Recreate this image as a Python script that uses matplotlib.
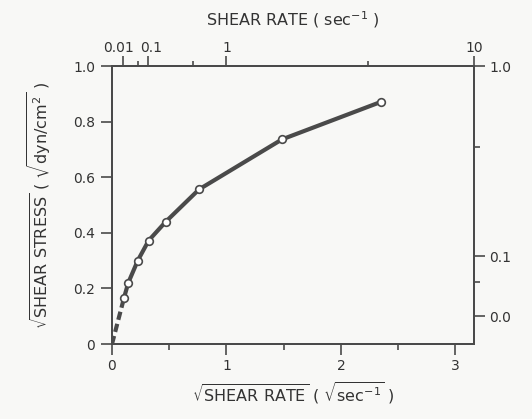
import matplotlib
matplotlib.use("Agg")
import matplotlib.pyplot as plt
import matplotlib.transforms as mtransforms
import numpy as np

# data: sqrt(shear rate) vs sqrt(shear stress)
sqrt_rate = [0.105, 0.142, 0.225, 0.32, 0.47, 0.76, 1.485, 2.35]
sqrt_stress = [0.166, 0.22, 0.30, 0.372, 0.44, 0.556, 0.736, 0.871]

x_ticks = [0, 1, 2, 3]
x_tick_labels = ["0", "1", "2", "3"]
y_ticks = [0, 0.2, 0.4, 0.6, 0.8, 1.0]
y_tick_labels = ["0", "0.2", "0.4", "0.6", "0.8", "1.0"]
top_rates = [0.01, 0.1, 1, 10]
top_labels = ["0.01", "0.1", "1", "10"]
top_minor_rates = [0.05, 0.5, 5]
right_stress = [1.0, 0.1, 0.01]
right_labels = ["1.0", "0.1", "0.0"]
right_minor_stress = [0.5, 0.05]

TXT = "#333333"
LINE = "#4a4a4a"
plt.rcParams['font.family'] = ['DejaVu Sans']
plt.rcParams['mathtext.fontset'] = 'dejavusans'

fig = plt.figure(figsize=(5.32, 4.19), dpi=100, facecolor="#f8f8f6")
ax = fig.add_axes([112/532, 75/419, (474-112)/532, (344-66)/419])
ax.set_facecolor("#f8f8f6")
ax.set_xlim(0, np.sqrt(10))
ax.set_ylim(0, 1.0)

for s in ax.spines.values():
    s.set_color(LINE)
    s.set_linewidth(1.2)

TS = 10
LS = 11.5

# bottom / left
ax.set_xticks(x_ticks)
ax.set_xticklabels(x_tick_labels)
ax.set_xticks([0.5, 1.5, 2.5], minor=True)
ax.set_yticks(y_ticks)
ax.set_yticklabels(y_tick_labels)
ax.tick_params(axis="both", which="major", direction="out", length=8, width=1.2,
               color=LINE, labelcolor=TXT, labelsize=TS, pad=3)
ax.tick_params(axis="x", which="minor", direction="out", length=4.5, width=1.2, color=LINE)
ax.tick_params(axis="y", which="major", pad=4)

# top axis (shear rate, log labels at sqrt positions)
axt = ax.twiny()
axt.set_xlim(ax.get_xlim())
axt.set_xticks(np.sqrt(top_rates))
axt.set_xticklabels(top_labels)
axt.set_xticks(np.sqrt(top_minor_rates), minor=True)
axt.tick_params(axis="x", which="major", direction="out", length=7, width=1.2,
                color=LINE, labelcolor=TXT, labelsize=TS, pad=1)
axt.tick_params(axis="x", which="minor", direction="out", length=3.5, width=1.2, color=LINE)
for s in axt.spines.values():
    s.set_color(LINE)
    s.set_linewidth(1.2)
axt.set_xlabel(r"SHEAR RATE ( sec$^{-1}$ )", color=TXT, fontsize=LS, labelpad=11)
# nudge the crowded 0.01 / 0.1 labels apart
shifts = [-5, 3, 0, 0]
for lab, dx in zip(axt.get_xticklabels(), shifts):
    lab.set_transform(lab.get_transform() +
                      mtransforms.ScaledTranslation(dx / 100, 0, fig.dpi_scale_trans))

# right axis (shear stress)
axr = ax.twinx()
axr.set_ylim(ax.get_ylim())
axr.set_yticks(np.sqrt(right_stress))
axr.set_yticklabels(right_labels)
axr.set_yticks(np.sqrt(right_minor_stress), minor=True)
axr.tick_params(axis="y", which="major", direction="out", length=8, width=1.2,
                color=LINE, labelcolor=TXT, labelsize=TS, pad=3)
axr.tick_params(axis="y", which="minor", direction="out", length=4.5, width=1.2, color=LINE)
for s in axr.spines.values():
    s.set_color(LINE)
    s.set_linewidth(1.2)

# data curve
ax.plot([0, sqrt_rate[0]], [0, sqrt_stress[0]], color=LINE, lw=3, ls=(0, (2.0, 1.0)),
        solid_capstyle="butt", zorder=3)
ax.plot(sqrt_rate, sqrt_stress, color=LINE, lw=3, zorder=4,
        marker="o", markersize=5.5, markerfacecolor="white", markeredgecolor=LINE,
        markeredgewidth=1.2, solid_joinstyle="round")

ax.set_xlabel(r"$\sqrt{\mathrm{SHEAR\ RATE}}$ ( $\sqrt{\mathrm{sec}^{-1}}$ )",
              color=TXT, fontsize=LS, labelpad=5)
ax.set_ylabel(r"$\sqrt{\mathrm{SHEAR\ STRESS}}$ ( $\sqrt{\mathrm{dyn/cm}^{2}}$ )",
              color=TXT, fontsize=LS, labelpad=15)

fig.savefig("out.png", dpi=100, facecolor=fig.get_facecolor())
